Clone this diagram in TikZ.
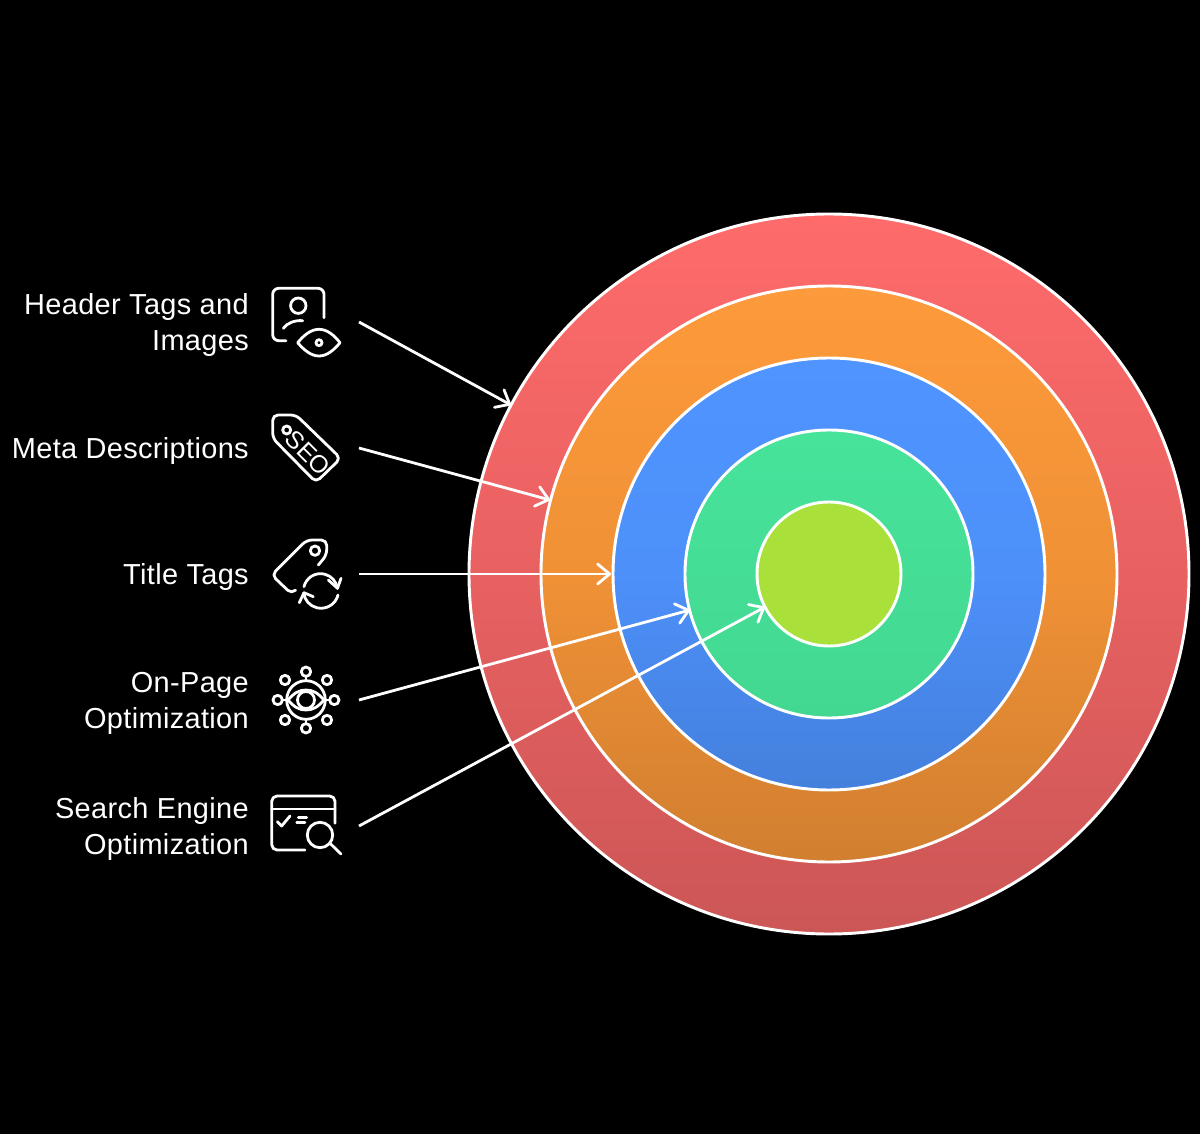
\documentclass[tikz,border=0pt]{standalone}
\usepackage{fontspec}
\setmainfont{Liberation Sans}
\newfontfamily\labfont[LetterSpace=1.2]{Liberation Sans}
\usetikzlibrary{arrows.meta}
\definecolor{bgk}{HTML}{000000}
\definecolor{redA}{HTML}{FF6B6B}\definecolor{redM}{HTML}{E86161}\definecolor{redB}{HTML}{CC5656}
\definecolor{orA}{HTML}{FD9A3B}\definecolor{orM}{HTML}{F09136}\definecolor{orB}{HTML}{D17F30}
\definecolor{blA}{HTML}{4F94FF}\definecolor{blM}{HTML}{4D90FA}\definecolor{blB}{HTML}{4480DC}
\definecolor{grA}{HTML}{47E39B}\definecolor{grB}{HTML}{43D892}
\definecolor{liA}{HTML}{A9E03A}
\tikzset{
  ring/.style={circle,draw=white,line width=2.2pt,inner sep=0pt,minimum size=#1*0.75pt},
  lab/.style={anchor=east,align=right,text=white,font=\labfont\fontsize{21.7}{27}\selectfont,inner sep=0pt},
  ico/.style={draw=white,line width=2.1pt,line cap=round,line join=round},
  conn/.style={draw=white,line width=2.1pt,-{Straight Barb[length=9pt,width=15pt,line width=2.1pt,round]}}
}
\begin{document}
\begin{tikzpicture}[x=0.75pt,y=-0.75pt]
\useasboundingbox (0,0) rectangle (1200,1134);
\fill[bgk] (0,0) rectangle (1200,1134);
% rings
\node[ring=720,top color=redA,bottom color=redB,middle color=redM] (r1) at (829,574) {};
\node[ring=576,top color=orA,bottom color=orB,middle color=orM] (r2) at (829,574) {};
\node[ring=432,top color=blA,bottom color=blB,middle color=blM] (r3) at (829,574) {};
\node[ring=288,top color=grA,bottom color=grB] (r4) at (829,574) {};
\node[ring=144,fill=liA] (r5) at (829,574) {};
% labels
\node[lab] (t1) at (249,325) {Header Tags and\\Images};
\node[lab] (t2) at (249,451) {Meta Descriptions};
\node[lab] (t3) at (249,577) {Title Tags};
\node[lab] (t4) at (249,703) {On-Page\\Optimization};
\node[lab] (t5) at (249,829) {Search Engine\\Optimization};
% connectors
\coordinate (s1) at (359,322); \coordinate (e1) at (511,405);
\coordinate (s2) at (359,448); \coordinate (e2) at (550,500);
\coordinate (s3) at (359,574); \coordinate (e3) at (611,574);
\coordinate (s4) at (359,700); \coordinate (e4) at (690,610);
\coordinate (s5) at (359,826); \coordinate (e5) at (765,607);
\draw[conn] (s1) -- (e1);
\draw[conn] (s2) -- (e2);
\draw[conn] (s3) -- (e3);
\draw[conn] (s4) -- (e4);
\draw[conn] (s5) -- (e5);
% icon 1
\draw[ico,rounded corners=4.5pt] (286,340.7) -- (272.7,340.7) -- (272.7,288.3) -- (324,288.3) -- (324,317.7);
\draw[ico] (298.3,305.7) circle[radius=7.7];
\draw[ico] (283.3,328.3) .. controls (287,323) and (295,320) .. (302.7,320.7);
\draw[ico] (297.7,342.7) .. controls (304,335) and (311,329.3) .. (319,329.3) .. controls (327,329.3) and (334,335) .. (340,342.7) .. controls (334,350) and (327,356) .. (319,356) .. controls (311,356) and (304,350) .. (297.7,342.7) -- cycle;
\draw[ico] (319,342.7) circle[radius=3];
% icon 2
\draw[ico,rounded corners=4pt] (272.7,415) -- (296,415) -- (340.7,458.3) -- (316,482.3) -- (272.7,438.3) -- cycle;
\draw[ico] (286.7,430) circle[radius=4];
\node[text=white,rotate=-45,inner sep=0pt,font=\fontsize{18.5}{19}\selectfont] (seo) at (308,453) {SEO};
% icon 3
\draw[ico,rounded corners=4pt] (295,590.7) -- (291.7,594) -- (271.7,575) -- (306.7,540) -- (326.7,540) -- (326.7,555) -- (318.3,565);
\draw[ico] (315,550.7) circle[radius=4.7];
\draw[ico] (304,586.7) arc[start angle=193.5,end angle=352,radius=17];
\draw[ico] (328.3,580) -- (337.5,588.3) -- (341,578.3);
\draw[ico] (338,595) arc[start angle=14,end angle=173,radius=17.5];
\draw[ico] (313.3,596.7) -- (304,592.7) -- (299.3,602.7);
% icon 4
\draw[ico] (306,700) circle[radius=19.3];
\draw[ico] (288,700) .. controls (294,693) and (299,690) .. (306,690) .. controls (313,690) and (318,693) .. (324,700) .. controls (318,707) and (313,710) .. (306,710) .. controls (299,710) and (294,707) .. (288,700) -- cycle;
\draw[ico] (306,700) circle[radius=8.5];
\draw[ico] (306,671.7) circle[radius=4.7];
\draw[ico] (306,728.3) circle[radius=4.7];
\draw[ico] (277.7,700) circle[radius=4.7];
\draw[ico] (334.3,700) circle[radius=4.7];
\draw[ico] (285,680) circle[radius=4.7];
\draw[ico] (327,680) circle[radius=4.7];
\draw[ico] (285,720) circle[radius=4.7];
\draw[ico] (327,720) circle[radius=4.7];
\draw[ico] (306,676.4) -- (306,680.7);
\draw[ico] (306,723.6) -- (306,719.3);
\draw[ico] (282.4,700) -- (286.7,700);
\draw[ico] (329.6,700) -- (325.3,700);
% icon 5
\draw[ico,rounded corners=4pt] (305,850) -- (271.7,850) -- (271.7,796) -- (335,796) -- (335,823.3);
\draw[ico] (271.7,809) -- (335,809);
\draw[ico] (277.3,821.7) -- (281.7,826) -- (290,816);
\draw[ico] (298.3,817.3) -- (306.7,817.3);
\draw[ico] (296.7,822.7) -- (305,822.7);
\draw[ico] (320,835) circle[radius=12.7];
\draw[ico] (330.7,844) -- (341,854);
\end{tikzpicture}
\end{document}
